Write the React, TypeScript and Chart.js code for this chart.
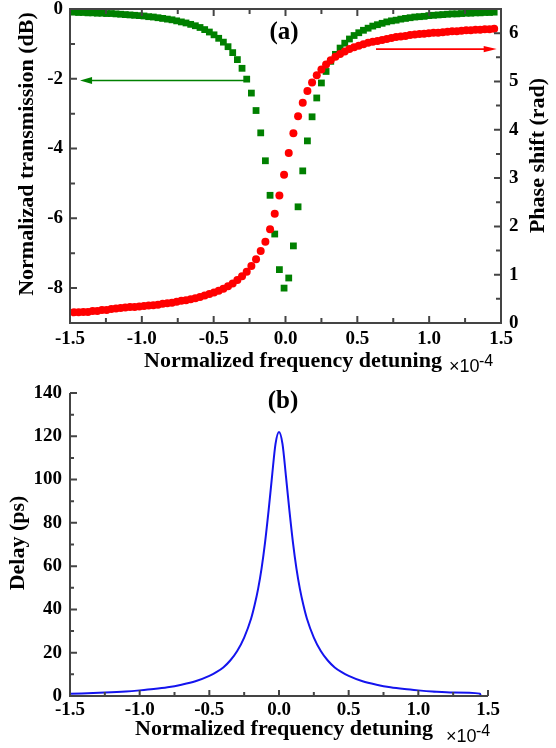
import React, { useEffect, useRef } from "react";
import { Chart, registerables } from "chart.js";

Chart.register(...registerables);

const SERIF = "'Liberation Serif', 'Times New Roman', serif";
const SANS = "'Liberation Sans', Arial, sans-serif";
const AXIS_COLOR = "#444444";
const GREEN = "#008000";
const RED = "#ff0000";
const BLUE = "#1414ee";

// ---- (a) normalized frequency detuning (x10^-4) ----
const FREQ = [
  -1.4725, -1.44, -1.4075, -1.375, -1.3425, -1.31, -1.2775, -1.245, -1.2125, -1.18,
  -1.1475, -1.115, -1.0825, -1.05, -1.0175, -0.985, -0.9525, -0.92, -0.8875, -0.855,
  -0.8225, -0.79, -0.7575, -0.725, -0.6925, -0.66, -0.6275, -0.595, -0.5625, -0.53,
  -0.4975, -0.465, -0.4325, -0.4, -0.3675, -0.335, -0.3025, -0.27, -0.2375, -0.205,
  -0.1725, -0.14, -0.1075, -0.075, -0.0425, -0.01, 0.0225, 0.055, 0.0875, 0.12,
  0.1525, 0.185, 0.2175, 0.25, 0.2825, 0.315, 0.3475, 0.38, 0.4125, 0.445,
  0.4775, 0.51, 0.5425, 0.575, 0.6075, 0.64, 0.6725, 0.705, 0.7375, 0.77,
  0.8025, 0.835, 0.8675, 0.9, 0.9325, 0.965, 0.9975, 1.03, 1.0625, 1.095,
  1.1275, 1.16, 1.1925, 1.225, 1.2575, 1.29, 1.3225, 1.355, 1.3875, 1.42,
  1.4525,
];

// Normalized transmission (dB), green squares
const TRANSMISSION_DB = [
  -0.09, -0.10, -0.10, -0.11, -0.11, -0.12, -0.12, -0.13, -0.13, -0.14,
  -0.15, -0.16, -0.17, -0.18, -0.19, -0.20, -0.22, -0.23, -0.25, -0.27,
  -0.29, -0.31, -0.34, -0.37, -0.40, -0.44, -0.48, -0.53, -0.59, -0.66,
  -0.74, -0.84, -0.95, -1.08, -1.25, -1.45, -1.70, -2.01, -2.41, -2.91,
  -3.55, -4.35, -5.34, -6.45, -7.47, -8.00, -7.71, -6.79, -5.67, -4.64,
  -3.78, -3.09, -2.55, -2.12, -1.79, -1.50, -1.30, -1.12, -0.98, -0.86,
  -0.76, -0.68, -0.61, -0.55, -0.49, -0.45, -0.41, -0.37, -0.34, -0.32,
  -0.29, -0.27, -0.25, -0.23, -0.22, -0.21, -0.19, -0.18, -0.17, -0.16,
  -0.15, -0.14, -0.14, -0.13, -0.12, -0.12, -0.11, -0.11, -0.10, -0.10,
  -0.09,
];

// Phase shift (rad), red circles
const PHASE_RAD = [
  0.22, 0.22, 0.23, 0.23, 0.25, 0.25, 0.27, 0.27, 0.29, 0.30,
  0.31, 0.32, 0.33, 0.33, 0.34, 0.35, 0.36, 0.37, 0.38, 0.40,
  0.41, 0.42, 0.44, 0.46, 0.47, 0.49, 0.51, 0.54, 0.57, 0.60,
  0.63, 0.67, 0.71, 0.76, 0.82, 0.89, 0.97, 1.06, 1.18, 1.32,
  1.49, 1.68, 1.94, 2.26, 2.64, 3.07, 3.52, 3.93, 4.28, 4.56,
  4.80, 4.98, 5.13, 5.25, 5.35, 5.44, 5.51, 5.57, 5.62, 5.67,
  5.71, 5.74, 5.77, 5.80, 5.82, 5.84, 5.86, 5.88, 5.90, 5.92,
  5.93, 5.94, 5.96, 5.97, 5.98, 5.99, 6.00, 6.01, 6.01, 6.02,
  6.03, 6.04, 6.04, 6.05, 6.06, 6.06, 6.07, 6.07, 6.08, 6.08,
  6.09,
];

// ---- (b) delay ----
const DELAY_FREQ = [
  -1.5, -1.25, -1.1, -1.0, -0.9, -0.8, -0.7, -0.6, -0.5, -0.45, -0.4, -0.35,
  -0.3, -0.25, -0.2, -0.175, -0.15, -0.125, -0.1, -0.075, -0.05, -0.025, 0,
  0.025, 0.05, 0.075, 0.1, 0.125, 0.15, 0.175, 0.2, 0.25, 0.3, 0.35, 0.4,
  0.45, 0.5, 0.6, 0.7, 0.8, 0.9, 1.0, 1.1, 1.25, 1.443, 1.447,
];
const DELAY_PS = [
  1.0, 1.6, 2.1, 2.6, 3.2, 4.0, 5.2, 6.8, 9.3, 11.0, 13.2, 16.4,
  20.8, 27.0, 35.8, 42.0, 49.5, 59.0, 71.0, 85.5, 101.5, 116.5, 122.0,
  116.5, 101.5, 85.5, 71.0, 59.0, 49.5, 42.0, 35.8, 27.0, 20.8, 16.4, 13.2,
  11.0, 9.3, 6.8, 5.2, 4.0, 3.2, 2.6, 2.1, 1.6, 1.1, 0,
];

// tick labels
const FREQ_TICKS = [-1.5, -1.0, -0.5, 0, 0.5, 1.0, 1.5];
const TRANS_TICKS = [-8, -6, -4, -2, 0];
const PHASE_TICKS = [0, 1, 2, 3, 4, 5, 6];
const DELAY_TICKS = [0, 20, 40, 60, 80, 100, 120, 140];

// arrows in data units: [x, y]
const GREEN_ARROW = { from: [-0.28, -2.05], to: [-1.43, -2.05] };
const RED_ARROW = { from: [0.63, 5.67], to: [1.47, 5.67] };

const tickFont = { family: SERIF, size: 19, weight: "bold" as const };

function majorMinor(major: number[], majorLen: number, minorLen: number) {
  const out: { value: number; len: number }[] = [];
  major.forEach((v, i) => {
    out.push({ value: v, len: majorLen });
    if (i < major.length - 1) out.push({ value: (v + major[i + 1]) / 2, len: minorLen });
  });
  return out;
}

function drawArrow(ctx: CanvasRenderingContext2D, x1: number, y1: number, x2: number, y2: number, color: string, headLen: number, headHalf: number) {
  ctx.save();
  ctx.strokeStyle = color;
  ctx.fillStyle = color;
  ctx.lineWidth = 1.6;
  const dir = Math.sign(x2 - x1);
  ctx.beginPath();
  ctx.moveTo(x1, y1);
  ctx.lineTo(x2 - dir * headLen * 0.7, y2);
  ctx.stroke();
  ctx.beginPath();
  ctx.moveTo(x2, y2);
  ctx.lineTo(x2 - dir * headLen, y2 - headHalf);
  ctx.lineTo(x2 - dir * headLen, y2 + headHalf);
  ctx.closePath();
  ctx.fill();
  ctx.restore();
}

function rotatedText(ctx: CanvasRenderingContext2D, str: string, x: number, y: number) {
  ctx.save();
  ctx.translate(x, y);
  ctx.rotate(-Math.PI / 2);
  ctx.textAlign = "center";
  ctx.textBaseline = "alphabetic";
  ctx.fillText(str, 0, 0);
  ctx.restore();
}

const topDecor = {
  id: "topDecor",
  afterDraw(chart: any) {
    const { ctx, chartArea: a, scales } = chart;
    const xs = scales.x, yl = scales.y, yr = scales.y1;
    ctx.save();
    ctx.strokeStyle = AXIS_COLOR;
    ctx.lineWidth = 2;
    ctx.beginPath();
    ctx.rect(a.left, a.top, a.right - a.left, a.bottom - a.top);
    for (const t of majorMinor(FREQ_TICKS, 7, 5)) {
      const p = xs.getPixelForValue(t.value);
      ctx.moveTo(p, a.bottom);
      ctx.lineTo(p, a.bottom - t.len);
      ctx.moveTo(p, a.top);
      ctx.lineTo(p, a.top + t.len);
    }
    for (const t of majorMinor(TRANS_TICKS, 7, 5)) {
      const p = yl.getPixelForValue(t.value);
      ctx.moveTo(a.left, p);
      ctx.lineTo(a.left + t.len, p);
    }
    for (const t of majorMinor(PHASE_TICKS, 7, 5)) {
      const p = yr.getPixelForValue(t.value);
      ctx.moveTo(a.right, p);
      ctx.lineTo(a.right - t.len, p);
    }
    ctx.stroke();

    drawArrow(ctx,
      xs.getPixelForValue(GREEN_ARROW.from[0]), yl.getPixelForValue(GREEN_ARROW.from[1]),
      xs.getPixelForValue(GREEN_ARROW.to[0]), yl.getPixelForValue(GREEN_ARROW.to[1]),
      GREEN, 12, 3.5);
    drawArrow(ctx,
      xs.getPixelForValue(RED_ARROW.from[0]), yr.getPixelForValue(RED_ARROW.from[1]),
      xs.getPixelForValue(RED_ARROW.to[0]), yr.getPixelForValue(RED_ARROW.to[1]),
      RED, 13, 3.2);

    ctx.fillStyle = "#000";
    ctx.font = `bold 22px ${SERIF}`;
    ctx.textAlign = "center";
    ctx.textBaseline = "alphabetic";
    ctx.fillText("Normalized frequency detuning", 293, 367);
    rotatedText(ctx, "Normalizad transmission (dB)", 32.5, 154);
    rotatedText(ctx, "Phase shift (rad)", 544, 155.5);

    ctx.font = `bold 25px ${SERIF}`;
    ctx.textBaseline = "middle";
    ctx.fillText("(a)", 284, 33);

    ctx.textAlign = "left";
    ctx.textBaseline = "alphabetic";
    ctx.font = `18px ${SANS}`;
    ctx.fillText("×10", 449, 372);
    ctx.font = `16px ${SANS}`;
    ctx.fillText("-4", 479, 366);
    ctx.restore();
  },
};

const bottomDecor = {
  id: "bottomDecor",
  afterDraw(chart: any) {
    const { ctx, chartArea: a, scales } = chart;
    const xs = scales.x, ys = scales.y;
    ctx.save();
    ctx.strokeStyle = AXIS_COLOR;
    ctx.lineWidth = 2;
    ctx.beginPath();
    ctx.moveTo(a.left, a.top);
    ctx.lineTo(a.left, a.bottom);
    ctx.lineTo(a.right, a.bottom);
    for (const t of majorMinor(FREQ_TICKS, 6, 4)) {
      const p = xs.getPixelForValue(t.value);
      ctx.moveTo(p, a.bottom);
      ctx.lineTo(p, a.bottom - t.len);
    }
    for (const t of majorMinor(DELAY_TICKS, 7, 4)) {
      const p = ys.getPixelForValue(t.value);
      ctx.moveTo(a.left, p);
      ctx.lineTo(a.left + t.len, p);
    }
    ctx.stroke();

    ctx.fillStyle = "#000";
    ctx.font = `bold 22px ${SERIF}`;
    ctx.textAlign = "center";
    ctx.textBaseline = "alphabetic";
    ctx.fillText("Normalized frequency detuning", 284, 355);
    rotatedText(ctx, "Delay (ps)", 24, 163);

    ctx.font = `bold 25px ${SERIF}`;
    ctx.textBaseline = "middle";
    ctx.fillText("(b)", 283, 22);

    ctx.textAlign = "left";
    ctx.textBaseline = "alphabetic";
    ctx.font = `18px ${SANS}`;
    ctx.fillText("×10", 446, 362);
    ctx.font = `16px ${SANS}`;
    ctx.fillText("-4", 476, 356);
    ctx.restore();
  },
};

function fixedTicks(values: number[]) {
  return (scale: any) => {
    scale.ticks = values.map((v) => ({ value: v }));
  };
}

const noGrid = { display: false, drawTicks: false, tickLength: 0 };

function topConfig(): any {
  return {
    type: "scatter",
    data: {
      datasets: [
        {
          label: "Phase shift",
          data: FREQ.map((x, i) => ({ x, y: PHASE_RAD[i] })),
          yAxisID: "y1",
          pointStyle: "circle",
          pointRadius: 4,
          backgroundColor: RED,
          borderWidth: 0,
        },
        {
          label: "Transmission",
          data: FREQ.map((x, i) => ({ x, y: TRANSMISSION_DB[i] })),
          yAxisID: "y",
          pointStyle: "rect",
          pointRadius: 4.8,
          backgroundColor: GREEN,
          borderWidth: 0,
        },
      ],
    },
    options: {
      responsive: false,
      animation: false,
      devicePixelRatio: 1,
      layout: { padding: { top: 9, left: 0, right: 0, bottom: 0 } },
      plugins: { legend: { display: false }, tooltip: { enabled: false } },
      scales: {
        x: {
          type: "linear",
          min: -1.5,
          max: 1.5,
          afterBuildTicks: fixedTicks(FREQ_TICKS),
          grid: noGrid,
          border: { display: false },
          ticks: { font: tickFont, color: "#000", padding: 5, maxRotation: 0, minRotation: 0, autoSkip: false, callback: (v: any) => Number(v).toFixed(1) },
          afterFit: (s: any) => { s.height = 57; s.paddingLeft = 0; s.paddingRight = 0; },
        },
        y: {
          type: "linear",
          position: "left",
          min: -9,
          max: 0,
          afterBuildTicks: fixedTicks(TRANS_TICKS),
          grid: noGrid,
          border: { display: false },
          ticks: { font: tickFont, color: "#000", padding: 7, autoSkip: false, callback: (v: any) => String(v) },
          afterFit: (s: any) => { s.width = 70; s.paddingTop = 0; s.paddingBottom = 0; },
        },
        y1: {
          type: "linear",
          position: "right",
          min: 0,
          max: 6.5,
          afterBuildTicks: fixedTicks(PHASE_TICKS),
          grid: noGrid,
          border: { display: false },
          ticks: { font: tickFont, color: "#000", padding: 8, autoSkip: false, callback: (v: any) => String(v) },
          afterFit: (s: any) => { s.width = 55; s.paddingTop = 0; s.paddingBottom = 0; },
        },
      },
    },
    plugins: [topDecor],
  };
}

function bottomConfig(): any {
  return {
    type: "line",
    data: {
      datasets: [
        {
          label: "Delay",
          data: DELAY_FREQ.map((x, i) => ({ x, y: DELAY_PS[i] })),
          borderColor: BLUE,
          borderWidth: 2,
          pointRadius: 0,
          fill: false,
          cubicInterpolationMode: "monotone",
        },
      ],
    },
    options: {
      responsive: false,
      animation: false,
      devicePixelRatio: 1,
      layout: { padding: { top: 13, left: 0, right: 68, bottom: 0 } },
      plugins: { legend: { display: false }, tooltip: { enabled: false } },
      scales: {
        x: {
          type: "linear",
          min: -1.5,
          max: 1.5,
          afterBuildTicks: fixedTicks(FREQ_TICKS),
          grid: noGrid,
          border: { display: false },
          ticks: { font: tickFont, color: "#000", padding: 3, maxRotation: 0, minRotation: 0, autoSkip: false, callback: (v: any) => Number(v).toFixed(1) },
          afterFit: (s: any) => { s.height = 52; s.paddingLeft = 0; s.paddingRight = 0; },
        },
        y: {
          type: "linear",
          position: "left",
          min: 0,
          max: 140,
          afterBuildTicks: fixedTicks(DELAY_TICKS),
          grid: noGrid,
          border: { display: false },
          ticks: { font: tickFont, color: "#000", padding: 8, autoSkip: false, callback: (v: any) => String(v) },
          afterFit: (s: any) => { s.width = 70; s.paddingTop = 0; s.paddingBottom = 0; },
        },
      },
    },
    plugins: [bottomDecor],
  };
}

export default function App() {
  const topRef = useRef<HTMLCanvasElement>(null);
  const botRef = useRef<HTMLCanvasElement>(null);

  useEffect(() => {
    const c1 = new Chart(topRef.current as HTMLCanvasElement, topConfig());
    const c2 = new Chart(botRef.current as HTMLCanvasElement, bottomConfig());
    return () => {
      c1.destroy();
      c2.destroy();
    };
  }, []);

  return (
    <div style={{ position: "absolute", left: 0, top: 0, width: 556, height: 748, background: "#fff" }}>
      <canvas ref={topRef} width={556} height={380} style={{ position: "absolute", left: 0, top: 0, width: 556, height: 380 }} />
      <canvas ref={botRef} width={556} height={368} style={{ position: "absolute", left: 0, top: 380, width: 556, height: 368 }} />
    </div>
  );
}
